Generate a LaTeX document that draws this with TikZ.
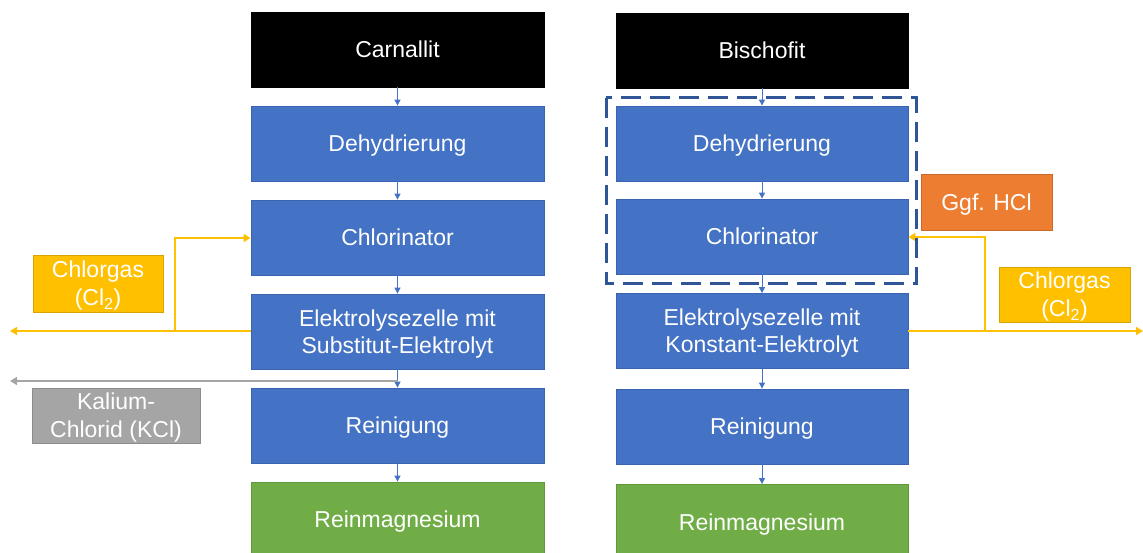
\documentclass[tikz,border=0pt]{standalone}
\usepackage{fontspec}
\setmainfont{Liberation Sans}
\usetikzlibrary{arrows.meta}
\definecolor{pblue}{HTML}{4472C4}
\definecolor{pblueedge}{HTML}{3B64B0}
\definecolor{pgreen}{HTML}{70AD47}
\definecolor{pgreenedge}{HTML}{5E9A3A}
\definecolor{porange}{HTML}{ED7D31}
\definecolor{pyellow}{HTML}{FFC000}
\definecolor{pgray}{HTML}{A5A5A5}
\definecolor{pdash}{HTML}{2F5597}
\tikzset{
  box/.style={draw=pblueedge, line width=0.8pt, fill=pblue, text=white, minimum height=75pt, align=center, font=\fontsize{23}{27}\selectfont, inner sep=0pt, text depth=0pt},
  lbox/.style={box, minimum width=293pt},
  rbox/.style={box, minimum width=292pt},
  blackbox/.style={fill=black, draw=black},
  greenbox/.style={fill=pgreen, draw=pgreenedge},
  sidebox/.style={text=white, align=center, font=\fontsize{23}{28}\selectfont, inner sep=0pt, line width=0.8pt, text depth=0pt},
  flow/.style={draw=pblue, line width=1pt, -{Triangle[length=6pt,width=6pt]}},
  yflow/.style={draw=pyellow, line width=1.6pt},
  gflow/.style={draw=pgray, line width=1.6pt},
  tip/.style={-{Triangle[length=7pt,width=8pt]}}
}
\begin{document}
\begin{tikzpicture}[x=1pt,y=-1pt]
\useasboundingbox (0,0) rectangle (1143,553);
% left column
\node[lbox,blackbox] (carn) at (397.5,49.5) {Carnallit};
\node[lbox] (deh1) at (397.5,143.5) {Dehydrierung};
\node[lbox] (chl1) at (397.5,237.5) {Chlorinator};
\node[lbox] (el1) at (397.5,331.5) {Elektrolysezelle mit\\Substitut-Elektrolyt};
\node[lbox] (rein1) at (397.5,425.5) {Reinigung};
\node[lbox,greenbox] (mg1) at (397.5,519.5) {Reinmagnesium};
% right column
\node[rbox,blackbox] (bisch) at (762,50.5) {Bischofit};
\node[rbox] (deh2) at (762,143.5) {Dehydrierung};
\node[rbox] (chl2) at (762,236.5) {Chlorinator};
\node[rbox] (el2) at (762,331) {Elektrolysezelle mit\\Konstant-Elektrolyt};
\node[rbox] (rein2) at (762,426.5) {Reinigung};
\node[rbox,greenbox] (mg2) at (762,522) {Reinmagnesium};
% side boxes
\node[sidebox, fill=pyellow, draw=pyellow!85!black, minimum width=130pt, minimum height=57pt] (cl1) at (98,283.5) {Chlorgas\\(Cl\textsubscript{2})};
\node[sidebox, fill=pgray, draw=pgray!85!black, minimum width=168pt, minimum height=55pt] (kcl) at (116,415.5) {Kalium-\\Chlorid (KCl)};
\node[sidebox, fill=porange, draw=porange!85!black, minimum width=131pt, minimum height=56pt] (hcl) at (986.5,202) {Ggf. HCl};
\node[sidebox, fill=pyellow, draw=pyellow!85!black, minimum width=131pt, minimum height=55pt] (cl2) at (1064.5,294.5) {Chlorgas\\(Cl\textsubscript{2})};
% vertical flows
\draw[flow] (carn) -- (deh1);
\draw[flow] (deh1) -- (chl1);
\draw[flow] (chl1) -- (el1);
\draw[flow] (el1) -- (rein1);
\draw[flow] (rein1) -- (mg1);
\draw[flow] (bisch) -- (deh2);
\draw[flow] (deh2) -- (chl2);
\draw[flow] (chl2) -- (el2);
\draw[flow] (el2) -- (rein2);
\draw[flow] (rein2) -- (mg2);
% left chlorine
\coordinate (lout) at (10,331);
\coordinate (lbr) at (175,331);
\draw[yflow,tip] (el1.west |- lout) -- (lout);
\draw[yflow,tip] (lbr) -- (175,238) -- (chl1.west |- 0,238);
% left KCl
\coordinate (kstart) at (397.5,381);
\coordinate (kout) at (10,381);
\draw[gflow,tip] (kstart) -- (kout);
% right chlorine
\coordinate (rbr) at (985,331);
\coordinate (rout) at (1143,331);
\draw[yflow,tip] (rbr) -- (985,237) -- (chl2.east |- 0,237);
\draw[yflow,tip] (el2.east |- rout) -- (rout);
% dashed group
\draw[pdash, line width=3pt, dash pattern=on 20pt off 9pt] (606,98) rectangle (916,284);
\end{tikzpicture}
\end{document}
